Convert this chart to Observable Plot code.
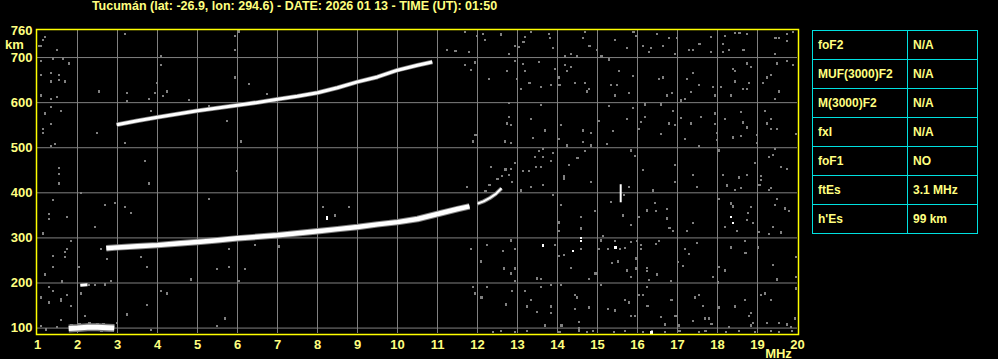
<!DOCTYPE html>
<html><head><meta charset="utf-8">
<script src="https://cdn.jsdelivr.net/npm/d3@7"></script>
<script src="https://cdn.jsdelivr.net/npm/@observablehq/plot@0.6"></script>
<style>
html,body{margin:0;padding:0;background:#000;width:998px;height:359px;overflow:hidden;}
#wrap{position:relative;width:998px;height:359px;}
#chart{position:absolute;left:0;top:0;}
#title{position:absolute;left:0;top:-1px;width:589px;text-align:center;color:#ffff80;font:bold 12.5px "Liberation Sans",Arial,sans-serif;line-height:14px;white-space:nowrap;}
#params{position:absolute;left:812px;top:30px;border-collapse:collapse;font:bold 12px "Liberation Sans",Arial,sans-serif;color:#ffff80;}
#params td{border:1px solid #00e0e0;height:29px;padding:0 0 0 5px;box-sizing:border-box;vertical-align:middle;white-space:nowrap;}
#params td.k{width:95px;}
#params td.v{width:70px;}
</style></head><body>
<div id="wrap">
<div id="chart"></div>
<div id="title"></div>
<table id="params"></table>
</div>
<script>
const titleText = "Tucumán (lat: -26.9, lon: 294.6) - DATE: 2026 01 13 - TIME (UT): 01:50";
const xTicks = [1,2,3,4,5,6,7,8,9,10,11,12,13,14,15,16,17,18,19,20];
const yTicks = [100,200,300,400,500,600,700,760];
const gridMHz = [2,3,4,5,6,7,8,9,10,11,12,13,14,15,16,17,18,19];
const gridKm = [100,200,300,400,500,600,700];
const paramNames = ["foF2","MUF(3000)F2","M(3000)F2","fxI","foF1","ftEs","h'Es"];
const paramValues = ["N/A","N/A","N/A","N/A","NO","3.1 MHz","99 km"];

// Lower F trace (1st hop)
const f1MHz = [2.72,3.0,3.5,4.0,4.5,5.0,5.5,6.0,6.5,7.0,7.5,8.0,8.5,9.0,9.5,10.0,10.5,11.0,11.5,11.8];
const f1Km  = [277,279,281.5,284,287.5,291,295,299,302.5,306,310.5,315,319.5,324,330,335,342,353,364,370];
// Upper F trace (2nd hop)
const f2MHz = [2.98,3.5,4.0,4.5,5.0,5.5,6.0,6.5,7.0,7.5,8.0,8.5,9.0,9.5,10.0,10.5,10.87];
const f2Km  = [551,560,567.5,575,582,588,594,600.5,607.5,614,622,633,646,657,672,683,690];
// Hook near 12 MHz
const hookMHz = [12.0,12.15,12.3,12.45,12.6];
const hookKm  = [376,381,388,397,410];
// Es layer
const esMHz = [1.78,2.0,2.25,2.5,2.75,2.92];
const esKm  = [99,100,102,102,101,100];
const es2MHz = [2.07,2.25];
const es2Km  = [195,196];
// Short vertical echo
const spikeMHz = [15.58,15.58];
const spikeKm  = [379,419];

// Grey noise specks
const noiseMHz = [
11.69,11.45,11.23,11.78,11.98,12.13,12.19,12.58,12.78,12.93,13.03,13.15,13.19,13.34,13.79,13.82,13.88,14.18,14.33,14.48,14.64,14.68,14.8,14.99,15.1,15.44,15.73,15.9,15.97,16.14,16.28,16.34,16.48,16.63,16.78,16.94,16.98,17.28,17.38,17.55,17.83,17.84,18.13,18.13,18.19,18.28,18.44,18.55,18.65,18.73,19.43,19.45,19.53,19.74,19.74,19.88,
11.68,11.84,11.94,12.29,12.74,12.94,12.99,13.09,13.14,13.19,13.3,13.54,13.59,13.84,13.94,14.03,14.05,14.18,14.24,14.33,14.43,14.68,14.73,14.78,15.29,15.34,15.49,15.44,15.54,15.79,15.89,16.53,16.63,16.73,16.87,17.09,17.18,17.23,17.33,17.38,17.53,17.88,17.93,18.08,18.33,18.39,18.44,18.44,18.63,18.73,18.78,18.73,18.84,19.14,19.24,19.34,19.48,19.53,19.43,19.74,19.89,
12.79,12.78,12.73,12.84,13.33,13.59,13.69,13.38,12.68,12.84,11.95,11.88,14.08,14.04,14.24,14.63,14.63,14.83,14.83,15.03,15.23,15.28,15.38,15.74,15.89,16.03,16.19,16.08,16.18,16.59,16.58,16.89,16.94,16.78,17.09,17.18,17.34,17.58,17.53,17.93,17.93,17.98,17.98,18.18,18.38,18.59,18.63,18.73,18.58,18.98,18.98,19.18,19.23,19.34,19.48,19.34,19.97,
13.44,13.53,13.63,13.64,13.58,13.46,13.88,13.84,12.93,12.84,12.78,13.13,13.28,12.33,14.28,14.5,14.16,14.68,15.83,15.93,16.13,16.94,17.38,18.03,18.13,18.53,18.74,18.94,19.09,19.28,19.39,19.44,19.58,19.74,
11.73,12.87,13.08,13.34,13.63,13.88,14.16,14.83,15.34,15.78,15.66,15.64,16.39,16.43,16.24,16.47,16.73,16.8,16.88,16.73,16.94,17.38,17.23,17.48,18.03,18.23,18.34,18.38,18.19,18.48,18.76,18.74,18.88,18.83,19.03,19.29,19.38,19.58,19.43,19.48,19.68,19.78,19.33,19.28,19.05,18.59,18.44,19.09,14.03,14.03,14.08,14.58,14.58,14.94,15.13,15.83,16.03,15.43,15.57,15.68,15.84,15.98,16.09,16.08,16.53,16.46,14.58,15.03,15.09,15.26,12.83,12.93,12.24,12.63,11.84,12.08,12.66,12.94,12.83,12.94,13.48,13.59,13.94,14.04,14.16,14.33,14.78,14.94,14.99,15.37,15.52,15.73,15.96,15.96,15.84,16.23,16.23,16.28,16.49,16.84,17.01,17.13,17.18,17.28,17.48,17.88,18.03,18.18,18.33,18.68,18.7,19.02,19.38,19.48,19.97,19.97,
12.2,12.3,12.5,12.62,12.7,
11.88,11.93,12.1,12.23,12.72,12.87,13.18,13.23,13.33,13.48,13.58,13.69,13.83,13.83,13.83,14.08,14.1,14.43,14.48,14.43,14.53,14.78,15.08,15.26,15.44,15.68,15.78,15.84,15.93,16.03,16.13,16.23,16.25,16.58,16.68,16.85,16.95,17.03,17.38,17.43,17.53,17.63,17.68,17.78,17.85,18.02,18.03,18.28,18.43,18.68,18.78,18.83,18.88,18.83,19.18,19.08,19.33,19.23,19.53,19.73,19.83,19.93,19.97,
12.38,12.59,12.93,13.23,14.05,14.53,14.53,14.73,14.88,15.42,15.68,16.13,16.37,16.68,17.05,17.53,17.7,18.22,18.53,18.93,19.33,19.53,19.87,
1.18,1.13,1.03,1.08,1.48,1.38,1.63,1.78,1.08,1.33,1.53,1.33,1.53,1.68,1.08,1.08,1.33,1.48,1.33,1.58,1.18,1.33,1.13,1.13,1.43,1.33,1.53,1.53,2.48,2.53,3.18,3.23,3.23,3.18,3.68,3.78,3.83,3.93,3.98,4.13,4.23,4.08,4.08,4.78,5.28,5.73,5.94,5.94,5.94,6.03,6.08,5.98,6.28,6.73,6.88,
1.53,3.78,2.08,1.38,2.68,2.93,3.18,3.33,5.28,1.28,1.28,1.73,2.43,1.13,1.83,1.73,1.68,1.38,1.68,2.58,2.73,2.03,1.38,1.18,3.58,3.73,5.48,5.78,6.18,4.83,5.78,6.43,7.03,6.03,2.83,2.68,2.43,2.28,1.62,1.28,1.38,1.73,1.08,1.28,1.83,1.58,1.58,2.08,4.08,4.23,3.73,3.23,2.18,1.58,5.68,5.48,3.83,1.22,1.48,1.08,2.98,8.13,8.43,8.78,
1.85,2.05,2.3,2.5,2.65,2.8,2.0,2.6
];
const noiseKm = [
757,714,717,713,748,752,739,751,708,726,723,735,745,757,752,744,721,702,708,702,744,757,726,717,702,739,721,757,748,726,713,721,752,726,744,708,744,717,717,730,745,713,730,713,748,717,755,755,717,752,708,744,744,752,736,757,
684,673,689,653,670,692,652,630,686,670,644,690,634,639,674,656,639,683,670,679,643,643,625,630,696,639,639,616,670,621,659,653,656,616,621,605,608,653,624,666,639,634,616,634,616,674,670,647,630,630,643,687,679,643,656,662,687,625,608,692,684,
599,568,554,551,564,595,538,522,514,510,528,514,550,520,505,538,512,532,505,559,508,592,537,564,588,541,596,557,568,596,531,581,551,554,566,519,554,568,504,576,553,532,517,564,523,579,556,545,526,510,528,581,554,563,542,542,531,
479,492,497,479,458,457,488,471,466,453,440,448,448,457,462,477,436,492,494,482,451,462,440,494,440,434,439,466,437,479,484,497,457,453,
413,424,405,413,417,395,430,424,379,413,395,350,405,377,361,359,343,322,315,364,424,333,315,413,386,416,376,370,324,315,355,339,333,368,313,309,324,312,373,386,365,359,411,407,417,410,407,429,334,315,373,346,321,359,305,328,346,293,275,278,291,293,284,275,293,287,275,275,294,276,294,276,284,271,275,248,232,232,221,204,210,209,284,260,262,234,209,221,221,244,248,228,254,232,213,234,226,206,219,204,247,238,275,265,288,213,235,228,279,293,266,279,240,208,213,257,
404,418,430,438,452,
191,177,168,191,152,182,182,148,163,136,191,106,195,148,134,195,106,173,168,142,114,146,195,142,139,163,157,127,127,173,173,191,149,124,108,163,127,106,115,168,173,149,121,121,109,201,146,103,148,163,127,133,112,106,177,173,163,112,112,108,103,121,188,
92,94,92,94,92,94,99,92,94,92,94,92,94,92,94,92,94,92,94,92,94,92,94,
745,739,726,726,717,698,698,687,692,665,661,647,650,647,661,616,608,612,590,581,576,553,541,532,508,504,455,442,532,625,753,621,603,510,470,608,581,621,643,615,625,704,683,606,593,559,748,717,656,758,514,448,642,619,608,
421,421,399,384,373,377,368,355,386,353,342,347,324,310,293,276,268,260,257,276,253,235,235,219,257,235,231,235,231,208,275,284,281,204,204,197,195,195,203,191,182,173,168,157,149,164,161,177,182,177,151,130,127,118,121,105,95,97,102,105,112,368,350,368,
106,108,110,109,108,106,93,94
];
// White specks
const speckMHz = [18.34,18.38,14.58,14.58,15.45,13.63,14.38,16.35,8.23,8.24];
const speckKm  = [347,333,300,293,279,283,271,90,343,347];

document.getElementById("title").textContent = titleText;
const tbl = document.getElementById("params");
paramNames.forEach((n,i) => {
  const tr = document.createElement("tr");
  const a = document.createElement("td"); a.className="k"; a.textContent = n;
  const b = document.createElement("td"); b.className="v"; b.textContent = paramValues[i];
  tr.append(a,b); tbl.append(tr);
});

const pts = (fs, hs) => fs.map((f,i) => ({f, h: hs[i]}));
const noise = pts(noiseMHz, noiseKm);
const specks = pts(speckMHz, speckKm);
const f1 = pts(f1MHz, f1Km), f2 = pts(f2MHz, f2Km), hook = pts(hookMHz, hookKm);
const es = pts(esMHz, esKm), es2 = pts(es2MHz, es2Km), spike = pts(spikeMHz, spikeKm);
const crisp = {shapeRendering: "crispEdges"};
const ln = (data, stroke, w) => Plot.line(data, {x: "f", y: "h", stroke, strokeWidth: w, strokeLinecap: "butt", style: crisp});

const chart = Plot.plot({
  width: 998, height: 359,
  marginLeft: 37, marginRight: 201, marginTop: 30, marginBottom: 26,
  style: {background: "transparent", color: "#ffff80", fontFamily: "'Liberation Sans', Arial, sans-serif", fontWeight: "bold", fontSize: "13px"},
  x: {domain: [1, 20]},
  y: {domain: [88, 760]},
  marks: [
    Plot.ruleX(gridMHz, {stroke: "#808080", strokeWidth: 1}),
    Plot.ruleY(gridKm, {stroke: "#808080", strokeWidth: 1}),
    Plot.dot(noise, {x: "f", y: "h", symbol: "square", r: 1.3, fill: "#808080", stroke: "none", shapeRendering: "crispEdges"}),
    ln(f1, "#808080", 6.5),
    ln(f1, "#fff", 4.5),
    ln(f2, "#808080", 4.5),
    ln(f2, "#fff", 3),
    ln(hook, "#808080", 4),
    ln(hook, "#fff", 2),
    ln(es, "#808080", 8),
    ln(es, "#fff", 5),
    ln(es2, "#fff", 3),
    ln(spike, "#fff", 2),
    Plot.dot(specks, {x: "f", y: "h", symbol: "square", r: 1.3, fill: "#fff", stroke: "none", shapeRendering: "crispEdges"}),
    Plot.frame({stroke: "#ffff00", strokeWidth: 1.5, inset: -1}),
    Plot.axisX({ticks: xTicks, tickSize: 0, tickPadding: 6, label: null, tickFormat: d => String(d)}),
    Plot.axisY({ticks: yTicks, tickSize: 0, tickPadding: 5, label: null, tickFormat: d => String(d)}),
    Plot.text(["km"], {frameAnchor: "top-left", dx: -23, dy: 9, textAnchor: "middle", fill: "#ffff80"}),
    Plot.text(["MHz"], {frameAnchor: "bottom-right", dx: -19, dy: 24, textAnchor: "middle", fill: "#ffff80"})
  ]
});
document.getElementById("chart").append(chart);
</script>
</body></html>
